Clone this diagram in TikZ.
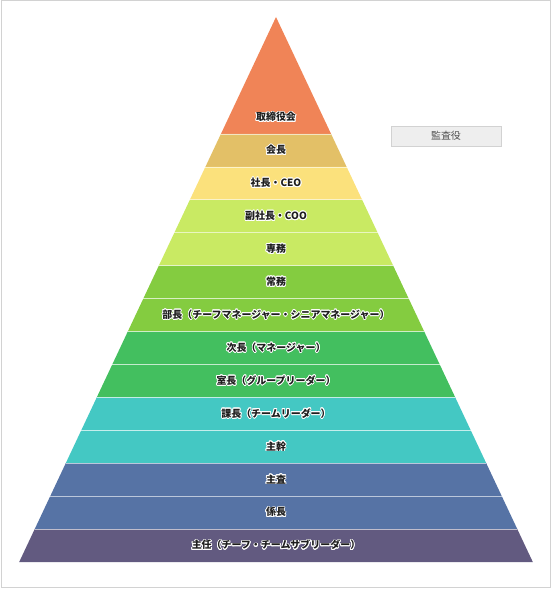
\documentclass[tikz,border=0pt]{standalone}
\usepackage{fontspec}
\setmainfont{Noto Sans CJK JP}
\usepackage{contour}
\contourlength{0.8pt}
\contournumber{16}
\definecolor{framegray}{HTML}{D2D2D2}
\definecolor{labelgray}{HTML}{1E1E1E}
\definecolor{lvOrange}{HTML}{F08457}
\definecolor{lvGold}{HTML}{E3C067}
\definecolor{lvYellow}{HTML}{FBE17C}
\definecolor{lvLime}{HTML}{C9EA63}
\definecolor{lvGrass}{HTML}{84CC40}
\definecolor{lvGreen}{HTML}{43BF5F}
\definecolor{lvTeal}{HTML}{44C8C3}
\definecolor{lvBlue}{HTML}{5673A5}
\definecolor{lvPurple}{HTML}{625A80}
\definecolor{boxfill}{HTML}{EEEEEE}
\definecolor{boxtext}{HTML}{505050}

\begin{document}
\begin{tikzpicture}[x=1bp,y=-1bp,
  level/.style={font=\fontsize{10}{12}\selectfont\bfseries,text=labelgray,inner sep=0pt},
  sepline/.style={white,draw opacity=0.6,line width=0.8bp}]

\useasboundingbox (0,0) rectangle (552,589);
\draw[framegray,line width=1bp] (1,1) rectangle (550.5,587);

% top of the pyramid
\fill[lvOrange] (276,17) -- (331.1,134) -- (220.9,134) -- cycle;
\node[level] (torishimari) at (276,117.5) {\contour{white}{取締役会}};

% bands
\foreach \col/\txt [count=\i from 0] in {
  lvGold/会長, lvYellow/社長・CEO, lvLime/副社長・COO, lvLime/専務,
  lvGrass/常務, lvGrass/部長（チーフマネージャー・シニアマネージャー）,
  lvGreen/次長（マネージャー）, lvGreen/室長（グループリーダー）,
  lvTeal/課長（チームリーダー）, lvTeal/主幹,
  lvBlue/主査, lvBlue/係長,
  lvPurple/主任（チーフ・チームサブリーダー）}{
  \pgfmathsetmacro\yt{134+32.923*\i}
  \pgfmathsetmacro\yb{\yt+32.923}
  \pgfmathsetmacro\wt{(\yt-17)*0.4712}
  \pgfmathsetmacro\wb{(\yb-17)*0.4712}
  \fill[\col] (276-\wt,\yt) -- (276+\wt,\yt) -- (276+\wb,\yb) -- (276-\wb,\yb) -- cycle;
  \draw[sepline] (276-\wt,\yt) -- (276+\wt,\yt);
  \node[level] (band\i) at (276,\yb-16.5) {\contour{white}{\txt}};
}

% auditor
\node[draw=framegray,fill=boxfill,text=boxtext,minimum width=110bp,minimum height=20bp,
  inner sep=0pt,font=\fontsize{10}{12}\selectfont] (kansa) at (446,136) {監査役};
\end{tikzpicture}
\end{document}
